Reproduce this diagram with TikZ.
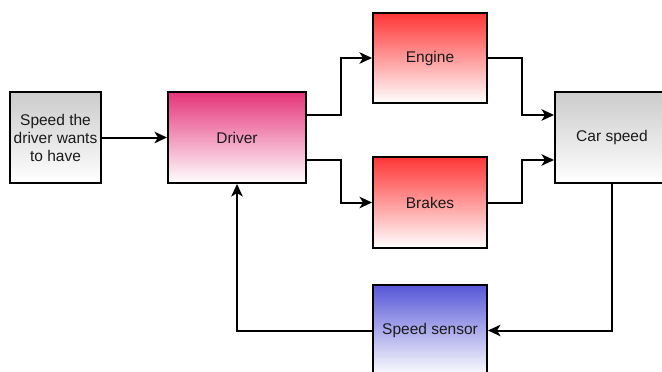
\documentclass[tikz,border=0pt]{standalone}
\usepackage{fontspec}
\setmainfont{Liberation Sans}
\usetikzlibrary{arrows.meta,calc}
\definecolor{pinktop}{HTML}{E5347A}
\definecolor{redtop}{HTML}{FF3535}
\definecolor{bluetop}{HTML}{5757D8}
\definecolor{greytop}{HTML}{CBCBCB}
\definecolor{txt}{HTML}{1A1A1A}
\tikzset{
  blk/.style={draw=black, line width=2pt, rectangle, inner sep=0pt, align=center,
    text=txt, font=\fontsize{15.5}{18}\selectfont, bottom color=white},
  greyblk/.style={blk, top color=greytop},
  pinkblk/.style={blk, top color=pinktop},
  redblk/.style={blk, top color=redtop},
  blueblk/.style={blk, top color=bluetop},
  arr/.style={draw=black, line width=2pt, -{Stealth[length=12.5pt,width=11.5pt,inset=3.5pt]}},
}
\begin{document}
\begin{tikzpicture}[x=1pt,y=-1pt]
\useasboundingbox (0,0) rectangle (662,372);
\clip (0,0) rectangle (662,372);
\node[greyblk, minimum width=91pt, minimum height=91pt] (want) at (55.5,137.5) {Speed the\\driver wants\\to have};
\node[pinkblk, minimum width=138pt, minimum height=91pt] (driver) at (237,137.5) {Driver};
\node[redblk, minimum width=114pt, minimum height=90pt] (engine) at (430,58) {Engine};
\node[redblk, minimum width=114pt, minimum height=91pt] (brakes) at (430,202.5) {Brakes};
\node[greyblk, minimum width=114pt, minimum height=91pt] (car) at (612,137.5) {Car speed};
\node[blueblk, minimum width=114pt, minimum height=91pt] (sensor) at (430,330.5) {Speed sensor};
\draw[arr] (want) -- (driver);
\draw[arr] ($(driver.east)+(0,-22.5)$) -- ++(34,0) |- (engine.west);
\draw[arr] ($(driver.east)+(0,22.5)$) -- ++(34,0) |- (brakes.west);
\draw[arr] (engine.east) -- ++(34,0) |- ($(car.west)+(0,-22.5)$);
\draw[arr] (brakes.east) -- ++(34,0) |- ($(car.west)+(0,22.5)$);
\draw[arr] (car.south) |- (sensor.east);
\draw[arr] (sensor.west) -| (driver.south);
\end{tikzpicture}
\end{document}
